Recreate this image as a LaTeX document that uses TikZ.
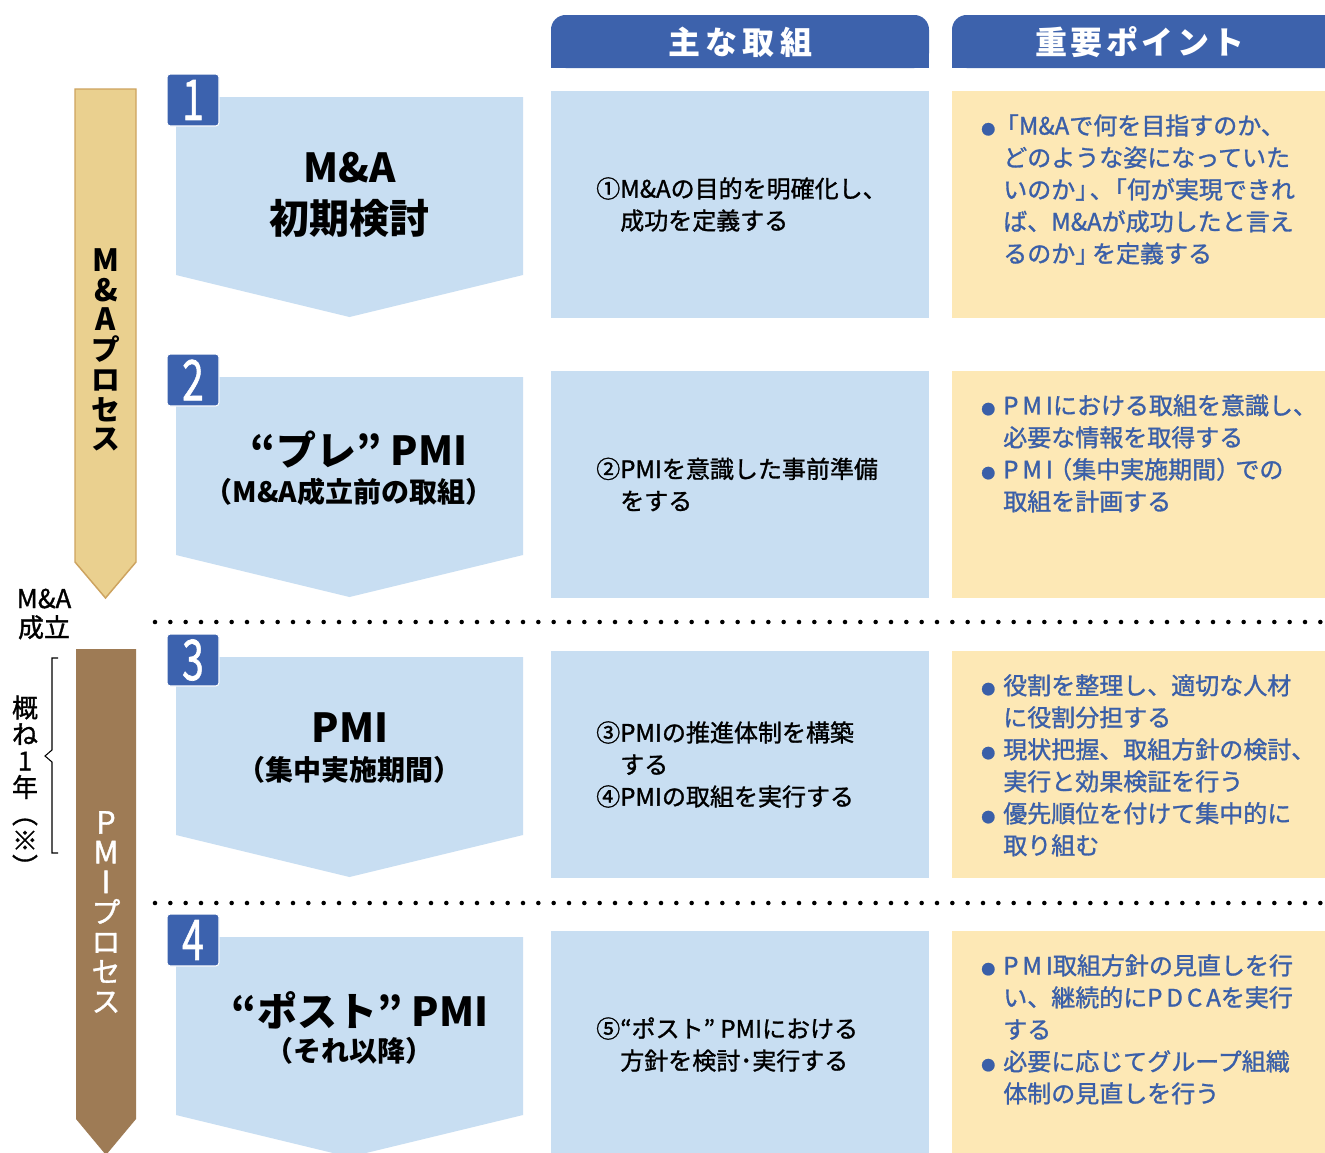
\documentclass[tikz,border=0pt]{standalone}
\usepackage{fontspec}
\usepackage{graphicx}
\setmainfont{Noto Sans CJK JP}
\newfontfamily\jpm[FakeBold=1.2]{Noto Sans CJK JP}
\definecolor{stepblue}{HTML}{C8DEF2}
\definecolor{ptyellow}{HTML}{FDE8B5}
\definecolor{hdrblue}{HTML}{3D62AC}
\definecolor{badgeblue}{HTML}{3C62AE}
\definecolor{tanfill}{HTML}{EAD08F}
\definecolor{tanline}{HTML}{CDA35F}
\definecolor{brownfill}{HTML}{9E7B55}
\definecolor{ptblue}{HTML}{3A5FA8}
\newcommand\bul{\llap{\fontsize{10.5}{10.5}\selectfont ●\hspace{6pt}}}
\newcommand\lat[1]{{\fontsize{23}{22.3}\selectfont #1}}
\begin{document}
\begin{tikzpicture}[x=0.75pt,y=-0.75pt,
  chev/.style={fill=stepblue},
  midbox/.style={fill=stepblue},
  ptbox/.style={fill=ptyellow},
  badge/.style={fill=badgeblue, draw=white, line width=0.8pt, rounded corners=2.5pt,
    minimum width=39pt, minimum height=39pt, inner sep=0pt, text=white,
    font=\jpm\fontsize{42}{42}\selectfont},
  ttl/.style={font=\bfseries\fontsize{30}{36}\selectfont, inner sep=0pt},
  sub/.style={font=\bfseries\fontsize{21}{25}\selectfont, inner sep=0pt},
  midtxt/.style={font=\jpm\fontsize{18}{24}\selectfont, align=left, anchor=west, inner sep=0pt},
  pttxt/.style={font=\jpm\fontsize{18}{24}\selectfont, align=left, anchor=north west, inner sep=0pt, text=ptblue},
  hdrtxt/.style={text=white, font=\bfseries\fontsize{24}{28}\selectfont, inner sep=0pt},
  dotline/.style={line width=3.4pt, line cap=round, dash pattern=on 0pt off 11.5pt},
  vtxt/.style={align=center, inner sep=0pt}
]
\useasboundingbox (0,0) rectangle (1325,1153);
\fill[white] (0,0) rectangle (1325,1153);

% headers
\fill[hdrblue, rounded corners=11pt] (551,15) rectangle (929,68);
\fill[hdrblue] (551,40) rectangle (929,68);
\fill[hdrblue, rounded corners=11pt] (952,15) rectangle (1340,68);
\fill[hdrblue] (952,40) rectangle (1340,68);
\node[hdrtxt] (h1) at (740,42) {主\hspace{4pt}な\hspace{4pt}取\hspace{4pt}組};
\node[hdrtxt] (h2) at (1140,42) {重\hspace{2.6pt}要\hspace{2.6pt}ポ\hspace{2.6pt}イ\hspace{2.6pt}ン\hspace{2.6pt}ト};

% left process bars
\filldraw[fill=tanfill, draw=tanline, line width=1.1pt] (75,89) -- (136,89) -- (136,562) -- (105.5,598) -- (75,562) -- cycle;
\node[vtxt, font=\bfseries\fontsize{21.5}{22.3}\selectfont] (mapro) at (106,350) {\lat{M}\\\lat{\&}\\\lat{A}\\プ\\ロ\\セ\\ス};
\fill[brownfill] (76,649) -- (136,649) -- (136,1119) -- (106,1155) -- (76,1119) -- cycle;
\node[vtxt, text=white, font=\jpm\fontsize{21.5}{22.3}\selectfont] (pmipro) at (106,912) {\lat{P}\\\lat{M}\\\lat{I}\\プ\\ロ\\セ\\ス};

\node[vtxt, font=\jpm\fontsize{19.5}{21.75}\selectfont] (seiritsu) at (44,614) {M\&A\\成立};
\draw[line width=0.8pt] (58,658) -- (52,658) -- (52,750) -- (45,756) -- (52,762) -- (52,853) -- (58,853);
\node[vtxt, font=\jpm\fontsize{19.5}{19.9}\selectfont] (gaine) at (25,786) {概\\ね\\1\\年\\︵\\※\\︶};

% dotted separators
\coordinate (d1s) at (155,622); \coordinate (d1e) at (1325,622);
\coordinate (d2s) at (155,903); \coordinate (d2e) at (1325,903);
\draw[dotline] (d1s) -- (d1e);
\draw[dotline] (d2s) -- (d2e);

% rows
\foreach \T/\n in {97/1,377/2,657/3,937/4}{
  \fill[chev] (176,\T) -- (523,\T) -- (523,\T+178) -- (349.5,\T+220) -- (176,\T+178) -- cycle;
  \fill[midbox] (551,\T-6) rectangle (929,\T+221);
  \fill[ptbox] (952,\T-6) rectangle (1330,\T+221);
  \node[badge] (b\n) at (193,\T+3) {\scalebox{0.7}[1]{\n}};
}

% chevron titles
\node[ttl] (t1a) at (350,168) {M\&A};
\node[ttl] (t1b) at (349,218) {初期検討};
\node[ttl] (t2a) at (359,450) {“プレ” PMI};
\node[sub] (t2b) at (349,492) {（M\&A成立前の取組）};
\node[ttl] (t3a) at (350,728) {PMI};
\node[sub] (t3b) at (349,770) {（集中実施期間）};
\node[ttl] (t4a) at (360,1010) {“ポスト” PMI};
\node[sub] (t4b) at (349,1051) {（それ以降）};

% middle column
\node[midtxt] (m1) at (620,204.5) {\llap{①}M\&Aの目的を明確化し、\\成功を定義する};
\node[midtxt] (m2) at (620,484.5) {\llap{②}PMIを意識した事前準備\\をする};
\node[midtxt] (m3) at (620,764.5) {\llap{③}PMIの推進体制を構築\\する\\\llap{④}PMIの取組を実行する};
\node[midtxt] (m4) at (620,1044.5) {\llap{⑤}“ポスト” PMIにおける\\方針を検討･実行する};

% right column
\node[pttxt] (p1) at (1003,114) {\bul\kern-0.35em「M\&Aで何を目指すのか、\\どのような姿になっていた\\いのか」\kern-0.4em、\kern-0.45em「何が実現できれ\\ば、M\&Aが成功したと言え\\るのか」\kern-0.3emを定義する};
\node[pttxt] (p2) at (1003,394) {\bul P\kern3pt M\kern3pt Iにおける取組を意識し、\\必要な情報を取得する\\\bul P\kern3pt M\kern3pt I\kern-0.2em（集中実施期間）\kern-0.2emでの\\取組を計画する};
\node[pttxt] (p3) at (1003,674) {\bul 役割を整理し、適切な人材\\に役割分担する\\\bul 現状把握、取組方針の検討、\\実行と効果検証を行う\\\bul 優先順位を付けて集中的に\\取り組む};
\node[pttxt] (p4) at (1003,954) {\bul P\kern3pt M\kern3pt I取組方針の見直しを行\\い、継続的にP\kern3pt D\kern3pt C\kern3pt Aを実行\\する\\\bul 必要に応じてグループ組織\\体制の見直しを行う};
\end{tikzpicture}
\end{document}
